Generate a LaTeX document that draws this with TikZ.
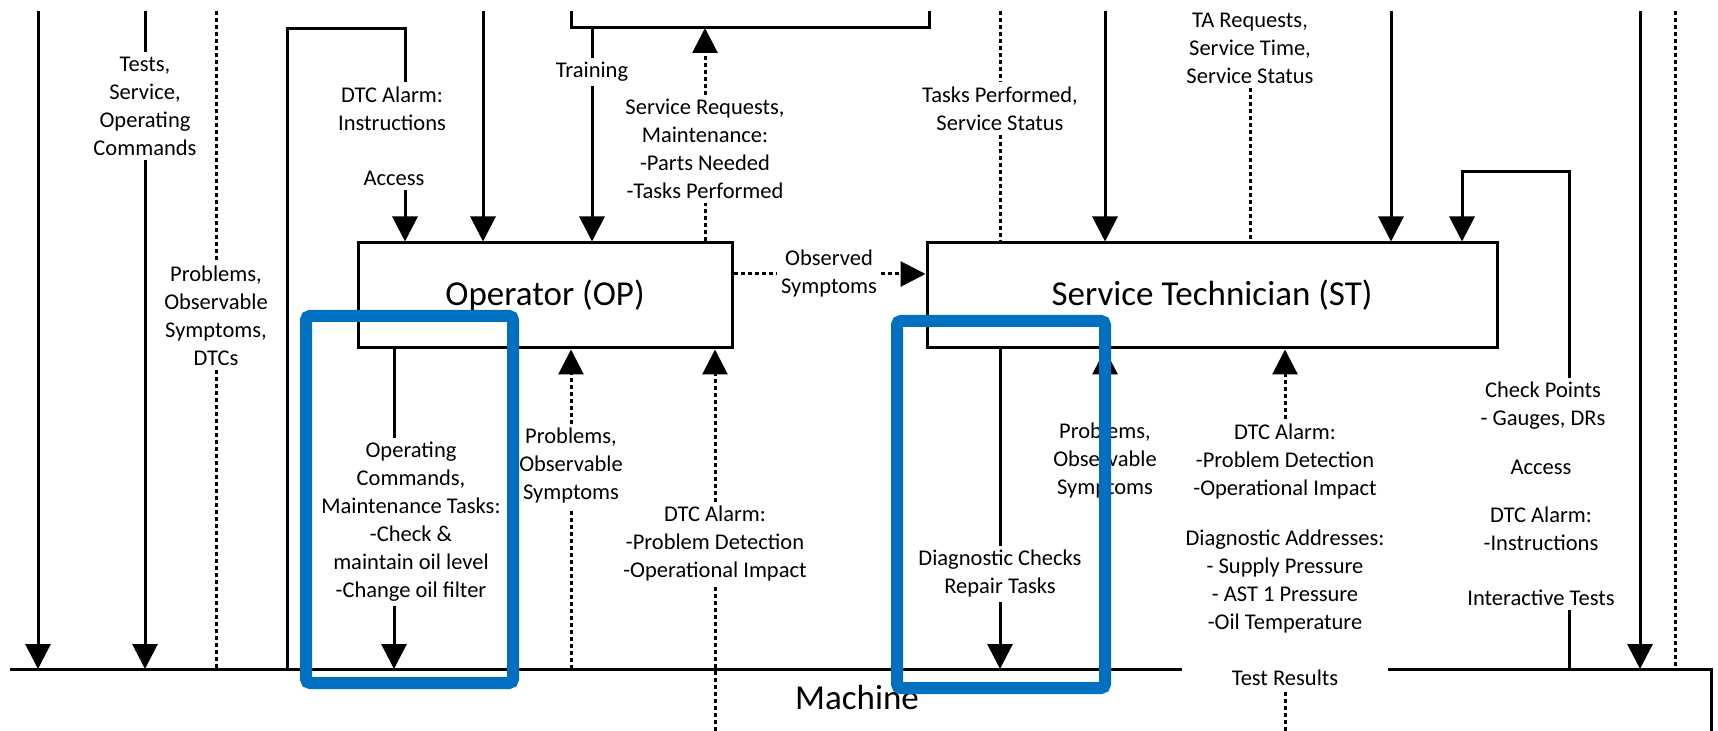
\documentclass[tikz,border=0pt]{standalone}
\usepackage{fontspec}
\setmainfont{Carlito}
\usetikzlibrary{arrows.meta}
\definecolor{hiblue}{RGB}{0,112,192}

\begin{document}
\begin{tikzpicture}[x=0.5pt, y=-0.5pt, >={Triangle[length=12.5pt, width=12.5pt]},
		bx/.style={draw, line width=1.5pt, minimum height=52.5pt, font=\fontsize{17.5}{21}\selectfont},
		lb/.style={align=center, inner sep=2pt, font=\fontsize{11.25}{14}\selectfont},
		sl/.style={line width=1.5pt},
		dt/.style={line width=1.5pt, dash pattern=on 2pt off 1.5pt},
		hb/.style={draw=hiblue, line width=6pt, rounded corners=2pt}]
		\useasboundingbox (0,0) rectangle (1718,731);

		% machine (cut off at the bottom) and upper box (cut off at the top)
		\coordinate (mL) at (10,669);
		\coordinate (mR) at (1711,669);
		\coordinate (mB) at (1711,731);
		\coordinate (top) at (0,11);
		\coordinate (tbL) at (571,28);
		\coordinate (tbR) at (929,28);
		\draw[sl] (mL) -- (mR) -- (mB);
		\draw[sl] (tbL |- top) -- (tbL) -- (tbR) -- (tbR |- top);
		\node[font=\fontsize{17.5}{21}\selectfont] (machine) at (857,697) {Machine};

		\node[bx, minimum width=187pt] (op) at (545,295.5) {Operator (OP)};
		\node[bx, minimum width=285pt] (st) at (1212,295.5) {Service Technician (ST)};

		\node[lb] (tests) at (145,106) {Tests,\\Service,\\Operating\\Commands};
		\node[lb] (probsC) at (216,316) {Problems,\\Observable\\Symptoms,\\DTCs};
		\node[lb] (dtcIn) at (392,108.5) {DTC Alarm:\\Instructions};
		\node[lb] (accA) at (394,178) {Access};
		\node[lb] (train) at (592,72) {Training};
		\node[lb] (servReq) at (705,149) {Service Requests,\\Maintenance:\\-Parts Needed\\-Tasks Performed};
		\node[lb] (tasksPerf) at (1000,108.5) {Tasks Performed,\\Service Status};
		\node[lb] (taReq) at (1250,48) {TA Requests,\\Service Time,\\Service Status};
		\node[lb] (obs) at (829,274) {Observed\\Symptoms};
		\node[lb] (opCmd) at (411,522) {Operating\\Commands,\\Maintenance Tasks:\\-Check \&\\maintain oil level\\-Change oil filter};
		\node[lb] (probsOP) at (571,466) {Problems,\\Observable\\Symptoms};
		\node[lb] (dtcOP) at (715,544) {DTC Alarm:\\-Problem Detection\\-Operational Impact};
		\node[lb] (diag) at (1000,574) {Diagnostic Checks\\Repair Tasks};
		\node[lb] (probsST) at (1105,461) {Problems,\\Observable\\Symptoms};
		\node[lb, fill=white] (stBlk) at (1285,554.5) {DTC Alarm:\\-Problem Detection\\-Operational Impact\\[11pt]Diagnostic Addresses:\\- Supply Pressure\\- AST 1 Pressure\\-Oil Temperature\\[14pt]Test Results};
		\node[lb] (chk) at (1543,406) {Check Points\\- Gauges, DRs};
		\node[lb] (accB) at (1541,467) {Access};
		\node[lb] (dtcB) at (1541,528.5) {DTC Alarm:\\-Instructions};
		\node[lb] (iTest) at (1541,598) {Interactive Tests};

		% free ends and bends
		\coordinate (aIn) at (38,11);
		\coordinate (bIn) at (145,11);
		\coordinate (cIn) at (216,11);
		\coordinate (loopD) at (287,29);
		\coordinate (accX) at (405,29);
		\coordinate (eIn) at (483,11);
		\coordinate (tpIn) at (1000,11);
		\coordinate (fIn) at (1105,11);
		\coordinate (gIn) at (1391,11);
		\coordinate (loopR) at (1569,172);
		\coordinate (loopRin) at (1462,172);
		\coordinate (hIn) at (1640,11);
		\coordinate (iIn) at (1675,11);
		\coordinate (cmdX) at (394,348);
		\coordinate (jOut) at (715,731);
		\coordinate (kOut) at (1285,731);

		% left side
		\path[->, sl] (aIn) edge (aIn |- mL);
		\path[sl] (bIn) edge (tests);
		\path[->, sl] (tests) edge (tests |- mL);
		\path[dt] (cIn) edge (probsC) (probsC) edge (probsC |- mL);
		\draw[sl] (loopD |- mL) -- (loopD) -- (accX) -- (accX |- dtcIn.north);
		\path[->, sl] (accX |- accA.south) edge (accX |- op.north);
		\path[->, sl] (eIn) edge (eIn |- op.north);
		\path[sl] (train |- tbL) edge (train);
		\path[->, sl] (train) edge (train |- op.north);
		\path[dt] (servReq |- op.north) edge (servReq);
		\path[->, dt] (servReq) edge (servReq |- tbL);

		% operator to technician
		\path[dt] (obs -| op.east) edge (obs);
		\path[->, dt] (obs) edge (obs -| st.west);

		% right side
		\path[dt] (tpIn) edge (tasksPerf) (tasksPerf) edge (tasksPerf |- st.north);
		\path[->, sl] (fIn) edge (fIn |- st.north);
		\path[dt] (taReq) edge (taReq |- st.north);
		\path[->, sl] (gIn) edge (gIn |- st.north);
		\draw[->, sl] (loopR |- chk.north) -- (loopR) -| (loopRin |- st.north);
		\path[sl] (loopR |- iTest.south) edge (loopR |- mL);
		\path[->, sl] (hIn) edge (hIn |- mL);
		\path[dt] (iIn) edge (iIn |- mL);

		% below the boxes
		\path[sl] (cmdX |- op.south) edge (cmdX |- opCmd.north);
		\path[->, sl] (cmdX |- opCmd.south) edge (cmdX |- mL);
		\path[->, dt] (probsOP) edge (probsOP |- op.south);
		\path[dt] (probsOP |- mL) edge (probsOP);
		\path[dt] (jOut) edge (dtcOP);
		\path[->, dt] (dtcOP) edge (dtcOP |- op.south);
		\path[sl] (diag |- st.south) edge (diag);
		\path[->, sl] (diag) edge (diag |- mL);
		\path[->, dt] (probsST) edge (probsST |- st.south);
		\path[dt] (probsST |- mL) edge (probsST);
		\path[dt] (kOut) edge (stBlk);
		\path[->, dt] (stBlk) edge (stBlk |- st.south);

		% highlights
		\draw[hb] (306,316) rectangle (513,683);
		\draw[hb] (897,321) rectangle (1105,688);
	\end{tikzpicture}
\end{document}
